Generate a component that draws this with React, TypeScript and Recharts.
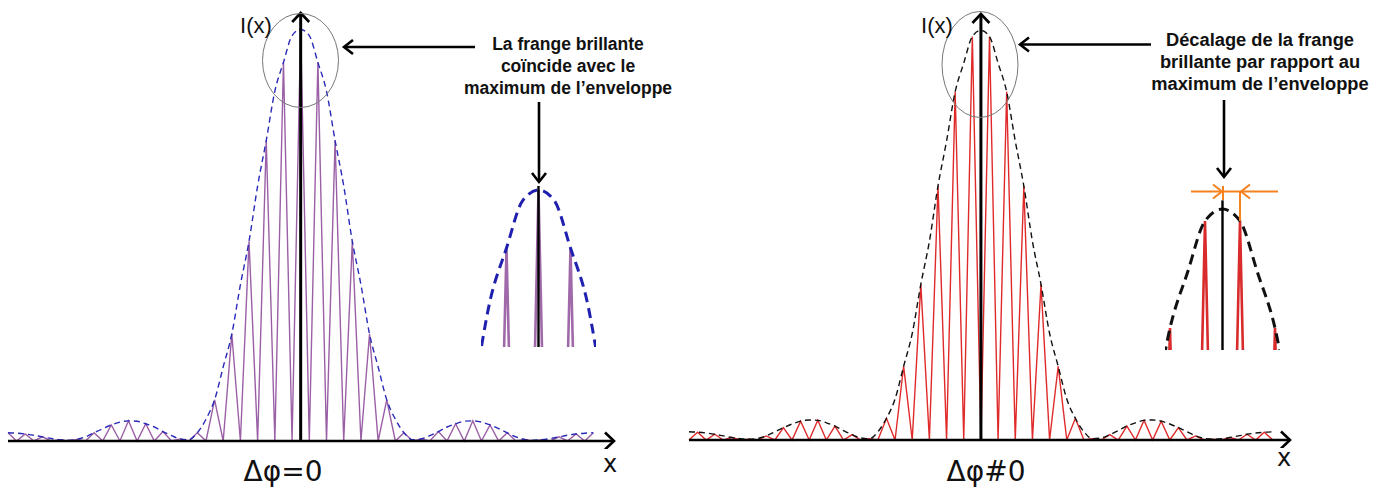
import React from "react";
import { LineChart, Line, XAxis, YAxis, ReferenceLine } from "recharts";

// position along x, counted in fringe spacings (half steps), 0 = envelope maximum
const ENV_K = [
  -17, -16.5, -16, -15.5, -15, -14.5, -14, -13.5, -13, -12.5, -12, -11.5, -11, -10.5, -10, -9.5,
  -9, -8.5, -8, -7.5, -7, -6.5, -6, -5.5, -5, -4.5, -4, -3.5, -3, -2.5, -2, -1.5, -1, -0.5, 0,
  0.5, 1, 1.5, 2, 2.5, 3, 3.5, 4, 4.5, 5, 5.5, 6, 6.5, 7, 7.5, 8, 8.5, 9, 9.5, 10, 10.5, 11,
  11.5, 12, 12.5, 13, 13.5, 14, 14.5, 15, 15.5, 16, 16.5, 17,
];

// envelope I(x) in % of the maximum
const ENV_I = [
  2.0, 1.9, 1.7, 1.4, 1.0, 0.6, 0.3, 0.2, 0.4, 1.0, 2.0, 3.0, 3.9, 4.6, 4.9, 4.8,
  4.2, 3.4, 2.3, 1.3, 0.5, 0.3, 2, 5.3, 10, 18, 26, 38, 48.5, 62, 73, 85, 92, 98.5, 100,
  98.5, 92, 85, 73, 62, 48.5, 38, 26, 18, 10, 5.3, 2, 0.3, 0.5, 1.3, 2.3, 3.4, 4.2, 4.8, 4.9, 4.6, 3.9,
  3.0, 2.0, 1.0, 0.4, 0.2, 0.3, 0.6, 1.0, 1.4, 1.7, 1.9, 2.0,
];

// dark fringes go all the way down to zero
const TROUGH = 0;

const envelope = ENV_K.map((k, i) => ({ k, v: ENV_I[i] }));
// Δφ = 0 : bright fringes on whole steps (bright fringe on the envelope max)
const fringesZero = ENV_K.map((k, i) => ({ k, v: Number.isInteger(k) ? ENV_I[i] : TROUGH }));
// Δφ ≠ 0 : bright fringes shifted by half a step
const fringesShift = ENV_K.map((k, i) => ({ k, v: Number.isInteger(k) ? TROUGH : ENV_I[i] }));

const M = { top: 6, right: 8, bottom: 8, left: 4 };

const arrowShape = (width: number) => (p: any) => {
  const { x1, y1, x2, y2 } = p;
  const dx = x2 - x1;
  const dy = y2 - y1;
  const len = Math.sqrt(dx * dx + dy * dy) || 1;
  const ux = dx / len;
  const uy = dy / len;
  const back = 9;
  const half = 8.5;
  const bx = x2 - ux * back;
  const by = y2 - uy * back;
  const pts = `${bx - uy * half},${by + ux * half} ${x2},${y2} ${bx + uy * half},${by - ux * half}`;
  return (
    <g>
      <line x1={x1} y1={y1} x2={x2} y2={y2} stroke="#000" strokeWidth={width} />
      <polyline points={pts} fill="none" stroke="#000" strokeWidth={2.6} />
    </g>
  );
};

function Panel(props: any) {
  const { left, top, width, height, xDomain, fringe, fringeColor, envColor } = props;
  return (
    <div style={{ position: "absolute", left, top }}>
      <LineChart width={width} height={height} margin={M}>
        <XAxis type="number" dataKey="k" domain={xDomain} hide />
        <YAxis type="number" domain={[0, 104]} hide />
        <Line data={fringe} dataKey="v" type="linear" stroke={fringeColor} strokeWidth={1.4}
          dot={false} activeDot={false} isAnimationActive={false} />
        <Line data={envelope} dataKey="v" type="monotone" stroke={envColor} strokeWidth={1.4}
          strokeDasharray="6 4" dot={false} activeDot={false} isAnimationActive={false} />
        <ReferenceLine segment={[{ x: xDomain[0], y: 0 }, { x: xDomain[1], y: 0 }]}
          ifOverflow="visible" shape={arrowShape(2.5)} />
        <ReferenceLine segment={[{ x: 0, y: 0 }, { x: 0, y: 104 }]}
          ifOverflow="visible" shape={arrowShape(3)} />
      </LineChart>
    </div>
  );
}

function Inset(props: any) {
  const { left, top, width, height, xDomain, yDomain, fringe, fringeColor, envColor, axisTop } = props;
  return (
    <div style={{ position: "absolute", left, top }}>
      <LineChart width={width} height={height} margin={{ top: 0, right: 0, bottom: 0, left: 0 }}>
        <XAxis type="number" dataKey="k" domain={xDomain} hide allowDataOverflow />
        <YAxis type="number" domain={yDomain} hide allowDataOverflow />
        <Line data={fringe} dataKey="v" type="linear" stroke={fringeColor} strokeWidth={2.6}
          dot={false} activeDot={false} isAnimationActive={false} />
        <Line data={envelope} dataKey="v" type="monotone" stroke={envColor} strokeWidth={3}
          strokeDasharray="10 6" dot={false} activeDot={false} isAnimationActive={false} />
        <ReferenceLine segment={[{ x: 0, y: yDomain[0] }, { x: 0, y: axisTop }]}
          stroke="#000" strokeWidth={2.4} ifOverflow="visible" />
      </LineChart>
    </div>
  );
}

const boldFont = "'Liberation Sans', Arial, sans-serif";
const plainFont = "'DejaVu Sans', sans-serif";

function Overlay() {
  const chevron = (x: number, y: number, dir: string, color = "#000", w = 2.6) => {
    const a = 9;
    const b = 7;
    let pts = "";
    if (dir === "left") pts = `${x + a},${y - b} ${x},${y} ${x + a},${y + b}`;
    if (dir === "right") pts = `${x - a},${y - b} ${x},${y} ${x - a},${y + b}`;
    if (dir === "down") pts = `${x - b},${y - a} ${x},${y} ${x + b},${y - a}`;
    return <polyline points={pts} fill="none" stroke={color} strokeWidth={w} />;
  };
  return (
    <svg width={1387} height={488} style={{ position: "absolute", left: 0, top: 0, pointerEvents: "none" }}>
      {/* left panel annotations */}
      <ellipse cx={300.5} cy={60.5} rx={38} ry={47} fill="none" stroke="#777" strokeWidth={1} />
      <line x1={344} y1={47} x2={475} y2={47} stroke="#000" strokeWidth={2.6} />
      {chevron(344, 47, "left")}
      <text x={568} y={50} textAnchor="middle" fontFamily={boldFont} fontWeight="bold" fontSize={17.5} fill="#111">La frange brillante</text>
      <text x={568} y={72} textAnchor="middle" fontFamily={boldFont} fontWeight="bold" fontSize={17.5} fill="#111">coïncide avec le</text>
      <text x={568} y={93.5} textAnchor="middle" fontFamily={boldFont} fontWeight="bold" fontSize={17.5} fill="#111">maximum de l’enveloppe</text>
      <line x1={539} y1={102} x2={539} y2={181} stroke="#000" strokeWidth={2.6} />
      {chevron(539, 182, "down")}
      <text x={256} y={33} textAnchor="middle" fontFamily={boldFont} fontSize={22} fill="#111">I(x)</text>
      <text x={283} y={481} textAnchor="middle" fontFamily={plainFont} fontSize={28} fill="#111">Δφ=0</text>
      <text x={610} y={472} textAnchor="middle" fontFamily={plainFont} fontSize={24} fill="#111">x</text>

      {/* right panel annotations */}
      <ellipse cx={980} cy={64.5} rx={38} ry={53} fill="none" stroke="#777" strokeWidth={1} />
      <line x1={1020} y1={44.5} x2={1151} y2={44.5} stroke="#000" strokeWidth={2.6} />
      {chevron(1020, 44.5, "left")}
      <text x={1260} y={46} textAnchor="middle" fontFamily={boldFont} fontWeight="bold" fontSize={18.3} fill="#111">Décalage de la frange</text>
      <text x={1260} y={68} textAnchor="middle" fontFamily={boldFont} fontWeight="bold" fontSize={18.3} fill="#111">brillante par rapport au</text>
      <text x={1260} y={89.5} textAnchor="middle" fontFamily={boldFont} fontWeight="bold" fontSize={18.3} fill="#111">maximum de l’enveloppe</text>
      <line x1={1224} y1={100} x2={1224} y2={176} stroke="#000" strokeWidth={2.6} />
      {chevron(1224, 177, "down")}
      <text x={937} y={33} textAnchor="middle" fontFamily={boldFont} fontSize={22} fill="#111">I(x)</text>
      <text x={986} y={481} textAnchor="middle" fontFamily={plainFont} fontSize={28} fill="#111">Δφ#0</text>
      <text x={1284} y={466} textAnchor="middle" fontFamily={plainFont} fontSize={24} fill="#111">x</text>

      {/* orange shift marker */}
      <line x1={1191} y1={191.5} x2={1278} y2={191.5} stroke="#f5821f" strokeWidth={2} />
      <line x1={1223} y1={186} x2={1223} y2={200} stroke="#f5821f" strokeWidth={2} />
      <line x1={1240} y1={191.5} x2={1240} y2={221} stroke="#f5821f" strokeWidth={2} />
      {chevron(1222, 191.5, "right", "#f5821f", 2)}
      {chevron(1241, 191.5, "left", "#f5821f", 2)}
    </svg>
  );
}

export default function App() {
  return (
    <div style={{ position: "absolute", left: 0, top: 0, width: 1387, height: 488, background: "#fff", overflow: "hidden" }}>
      <Panel left={4} top={7} width={618} height={442} xDomain={[-17, 18.2]}
        fringe={fringesZero} fringeColor="#9b5fa6" envColor="#2a2ab8" />
      <Panel left={685} top={8} width={613} height={440} xDomain={[-17, 18]}
        fringe={fringesShift} fringeColor="#e02a2a" envColor="#111" />
      <Inset left={481} top={186} width={115} height={161} xDomain={[-1.797, 1.797]} yDomain={[78.35, 100.55]}
        axisTop={100.55} fringe={fringesZero} fringeColor="#a06aaa" envColor="#2020b0" />
      <Inset left={1165} top={196} width={115} height={154} xDomain={[-1.643, 1.643]} yDomain={[82.23, 101.65]}
        axisTop={101.1} fringe={fringesShift} fringeColor="#d92b2b" envColor="#111" />
      <Overlay />
    </div>
  );
}
